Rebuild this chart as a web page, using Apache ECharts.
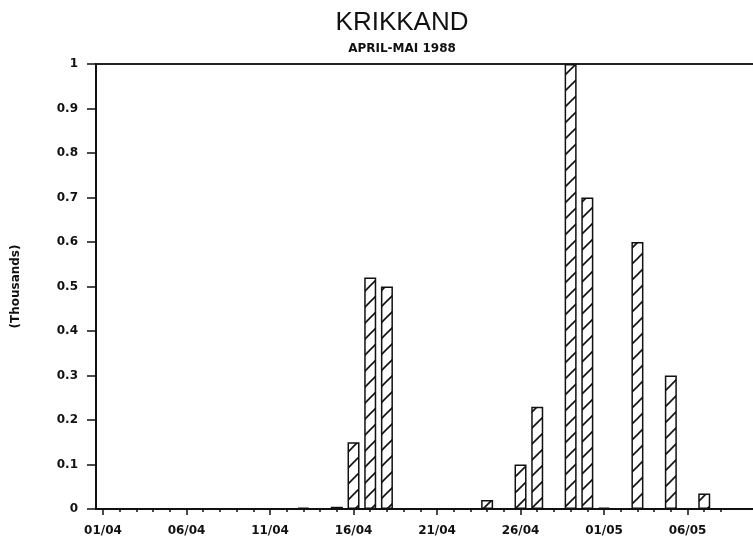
<!DOCTYPE html>
<html>
<head>
<meta charset="utf-8">
<script src="https://cdn.jsdelivr.net/npm/echarts@6/dist/echarts.min.js"></script>
<style>
  html, body { margin: 0; padding: 0; background: #fff; }
  #chart { width: 753px; height: 538px; }
</style>
</head>
<body>
<div id="chart"></div>
<script>
// days on the x axis (01/04 .. 08/05)
var days = [
  '01/04','02/04','03/04','04/04','05/04','06/04','07/04','08/04','09/04','10/04',
  '11/04','12/04','13/04','14/04','15/04','16/04','17/04','18/04','19/04','20/04',
  '21/04','22/04','23/04','24/04','25/04','26/04','27/04','28/04','29/04','30/04',
  '01/05','02/05','03/05','04/05','05/05','06/05','07/05','08/05'
];
// counts in thousands, one per day
var counts = [
  0, 0, 0, 0, 0, 0, 0, 0, 0, 0,
  0, 0, 0.003, 0, 0.005, 0.15, 0.52, 0.50, 0, 0,
  0, 0, 0, 0.02, 0, 0.10, 0.23, 0, 1.0, 0.70,
  0.003, 0, 0.60, 0, 0.30, 0, 0.035, 0
];
// labelled days on the axis
var labelDays = [0, 5, 10, 15, 20, 25, 30, 35];
var yTicks = [0, 0.1, 0.2, 0.3, 0.4, 0.5, 0.6, 0.7, 0.8, 0.9, 1];

// hatch pattern "/" for the bars
var hatch = document.createElement('canvas');
hatch.width = 16;
hatch.height = 16;
var ctx = hatch.getContext('2d');
ctx.fillStyle = '#fff';
ctx.fillRect(0, 0, 16, 16);
ctx.strokeStyle = '#111';
ctx.lineWidth = 1.6;
ctx.beginPath();
ctx.moveTo(-2, 18); ctx.lineTo(18, -2);
ctx.moveTo(-18, 18); ctx.lineTo(2, -2);
ctx.moveTo(14, 18); ctx.lineTo(34, -2);
ctx.stroke();

var allDays = days.map(function (d, i) { return i; });
var barData = [];
counts.forEach(function (v, i) {
  if (v > 0) barData.push([i, v]);
});

var font = 'DejaVu Sans';
var myChart = echarts.init(document.getElementById('chart'));
myChart.setOption({
  backgroundColor: '#ffffff',
  animation: false,
  grid: { left: 96, right: 0, top: 64, bottom: 29, outerBoundsMode: 'none', containLabel: false },
  graphic: [
    {
      type: 'text', x: 402, y: 23,
      style: { text: 'KRIKKAND', font: '26px "Liberation Sans"', fill: '#111', align: 'center', verticalAlign: 'middle' }
    },
    {
      type: 'text', x: 402, y: 49,
      style: { text: 'APRIL-MAI 1988', font: 'bold 12px "DejaVu Sans"', fill: '#111', align: 'center', verticalAlign: 'middle' }
    }
  ],
  xAxis: [
    {
      // daily ticks + labels
      type: 'value', position: 'bottom',
      min: -0.42, max: 38.92,
      axisLine: { show: true, onZero: false, lineStyle: { color: '#111', width: 2 } },
      axisTick: { show: true, length: 3, customValues: allDays, lineStyle: { color: '#111', width: 1.5 } },
      axisLabel: {
        customValues: labelDays, margin: 16,
        fontFamily: font, fontWeight: 'bold', fontSize: 12, color: '#111',
        formatter: function (v) { return days[v]; }
      },
      splitLine: { show: false }
    },
    {
      // longer ticks at labelled days
      type: 'value', position: 'bottom',
      min: -0.42, max: 38.92,
      axisLine: { show: false, onZero: false },
      axisTick: { show: true, length: 6, customValues: labelDays, lineStyle: { color: '#111', width: 1.5 } },
      axisLabel: { show: false },
      splitLine: { show: false }
    },
    {
      // top border line
      type: 'value', position: 'top',
      min: -0.42, max: 38.92,
      axisLine: { show: true, onZero: false, lineStyle: { color: '#222', width: 2 } },
      axisTick: { show: false },
      axisLabel: { show: false },
      splitLine: { show: false }
    }
  ],
  yAxis: {
    type: 'value', min: 0, max: 1, interval: 0.1,
    name: '(Thousands)', nameLocation: 'middle', nameGap: 74,
    nameTextStyle: { fontFamily: font, fontWeight: 'bold', fontSize: 12, color: '#111' },
    axisLine: { show: true, onZero: false, lineStyle: { color: '#111', width: 2 } },
    axisTick: { show: true, length: 9, lineStyle: { color: '#111', width: 1.5 } },
    axisLabel: {
      margin: 18, fontFamily: font, fontWeight: 'bold', fontSize: 12, color: '#111',
      customValues: yTicks
    },
    splitLine: { show: false }
  },
  series: [{
    type: 'bar',
    xAxisIndex: 0,
    barWidth: 12,
    data: barData,
    itemStyle: {
      color: { image: hatch, repeat: 'repeat' },
      borderColor: '#111',
      borderWidth: 1.5
    }
  }]
});
</script>
</body>
</html>
